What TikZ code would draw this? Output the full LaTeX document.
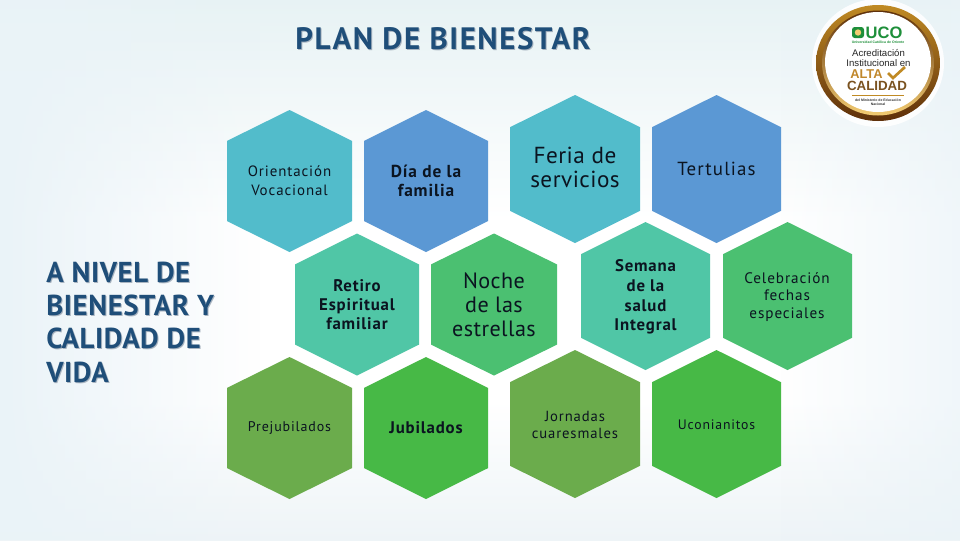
\documentclass[tikz,border=0pt]{standalone}
\usepackage{fontspec}
\setmainfont{PT Sans}
\newfontfamily\badgefont{Liberation Sans}
\usetikzlibrary{fadings}
\definecolor{tealhex}{HTML}{52BCCB}
\definecolor{bluehex}{HTML}{5B98D4}
\definecolor{minthex}{HTML}{50C6A6}
\definecolor{grnhex}{HTML}{4BC071}
\definecolor{olivehex}{HTML}{6BAC4C}
\definecolor{limehex}{HTML}{47B946}
\definecolor{navy}{HTML}{1F4E79}
\definecolor{goldl}{HTML}{F3CC72}
\definecolor{goldm}{HTML}{C08A24}
\definecolor{goldd}{HTML}{5E300A}
\definecolor{ucogreen}{HTML}{1E8F3A}
\definecolor{brownt}{HTML}{7A5220}
\definecolor{bgtop}{HTML}{E7F2F4}
\definecolor{bgside}{HTML}{EAF3F8}
\definecolor{bgbot}{HTML}{EEF4F7}
\definecolor{inkc}{HTML}{0B1420}
\definecolor{shadowc}{HTML}{A9B4C0}
\tikzset{
 txt/.style={align=center,text=inkc,inner sep=0pt},
 heading/.style={inner sep=0pt,align=left},
}
\newfontface\spacedr{PT Sans}[LetterSpace=6]
\newfontface\spacedb{PT Sans Bold}[LetterSpace=5]
\newfontface\spacedm{PT Sans}[LetterSpace=2]
\newfontface\headf{PT Sans Bold}[LetterSpace=5]
\newfontface\headg{PT Sans Bold}[LetterSpace=2]
\newcommand{\hexa}[5]{%
 \fill[#5] (#1,#2-#4) -- (#1+#3,#2-#4*0.565) -- (#1+#3,#2+#4*0.565) -- (#1,#2+#4) -- (#1-#3,#2+#4*0.565) -- (#1-#3,#2-#4*0.565) -- cycle;}
\begin{document}
\begin{tikzpicture}[x=0.75pt,y=-0.75pt]
\useasboundingbox (0,0) rectangle (960,540);
\fill[white] (0,0) rectangle (960,540);
\shade[top color=bgtop,bottom color=white] (0,0) rectangle (960,220);
\shade[top color=white,bottom color=bgbot] (0,400) rectangle (960,540);
\fill[bgside,path fading=east] (0,0) rectangle (260,540);
\fill[bgside,path fading=west,opacity=.7] (780,0) rectangle (960,540);
% hexagons
\hexa{289.5}{181}{62.5}{71}{tealhex}
\hexa{426}{181}{62}{71}{bluehex}
\hexa{357}{304.5}{62}{71}{minthex}
\hexa{494}{304.5}{63}{71}{grnhex}
\hexa{289.5}{428}{62.5}{71}{olivehex}
\hexa{426}{428}{62}{71}{limehex}
\hexa{575}{169}{65}{74}{tealhex}
\hexa{716.5}{169}{64.5}{74}{bluehex}
\hexa{645.5}{296}{64.5}{74}{minthex}
\hexa{787.5}{296}{64.5}{74}{grnhex}
\hexa{575}{424}{65}{74}{olivehex}
\hexa{716.5}{424}{64.5}{74}{limehex}
% texts
\node[txt,font=\spacedr\fontsize{11.2}{14}\selectfont] (a) at (289.5,181) {Orientación\\Vocacional};
\node[txt,font=\spacedb\fontsize{13}{14}\selectfont] (b) at (426,181) {Día de la\\familia};
\node[txt,font=\spacedb\fontsize{12.6}{14.5}\selectfont] (c) at (357,304.5) {Retiro\\Espiritual\\familiar};
\node[txt,font=\spacedm\fontsize{16.6}{18}\selectfont] (d) at (494,304.5) {Noche\\de las\\estrellas};
\node[txt,font=\spacedr\fontsize{10.5}{14}\selectfont] (e) at (289.5,428.5) {Prejubilados};
\node[txt,font=\spacedb\fontsize{12.6}{14}\selectfont] (f) at (426,428) {Jubilados};
\node[txt,font=\spacedm\fontsize{17.4}{18}\selectfont] (g) at (575,167.5) {Feria de\\servicios};
\node[txt,font=\spacedr\fontsize{14.2}{16}\selectfont] (h) at (716.5,169) {Tertulias};
\node[txt,font=\spacedb\fontsize{12.6}{14.7}\selectfont] (i) at (645.5,297) {Semana\\de la\\salud\\Integral};
\node[txt,font=\spacedr\fontsize{11.4}{13}\selectfont] (j) at (787,297) {Celebración\\fechas\\especiales};
\node[txt,font=\spacedr\fontsize{11}{13.2}\selectfont] (k) at (575,425) {Jornadas\\cuaresmales};
\node[txt,font=\spacedr\fontsize{10.3}{14}\selectfont] (l) at (716.5,425) {Uconianitos};
% title
\node[heading,font=\headf\fontsize{23.2}{24}\selectfont,text=shadowc] (ts) at (444,39.6) {PLAN DE BIENESTAR};
\node[heading,font=\headf\fontsize{23.2}{24}\selectfont,text=navy] (t) at (443,38.4) {PLAN DE BIENESTAR};
% left
\node[heading,anchor=north west,font=\headg\fontsize{21.6}{25}\selectfont,text=shadowc] (ss) at (47,262.5) {A NIVEL DE\\BIENESTAR Y\\CALIDAD DE\\VIDA};
\node[heading,anchor=north west,font=\headg\fontsize{21.6}{25}\selectfont,text=navy] (s) at (46,261.5) {A NIVEL DE\\BIENESTAR Y\\CALIDAD DE\\VIDA};
% badge
\fill[white,opacity=.9] (878,63) ellipse (66 and 64);
\shade[top color=goldm,middle color=goldl,bottom color=goldd] (878,63) ellipse (62 and 58);
\shade[top color=goldd,middle color=goldm,bottom color=goldl] (878,63) ellipse (56 and 52.5);
\fill[white] (878,62) ellipse (53 and 50);
\fill[ucogreen,rounded corners=2pt] (852,27) rectangle (864,38);
\fill[goldl] (858,32.5) circle (3.2);
\node[font=\badgefont\bfseries\fontsize{12.4}{14}\selectfont,text=ucogreen,inner sep=0pt] (u) at (884,33) {UCO};
\node[font=\badgefont\bfseries\fontsize{2.6}{3}\selectfont,text=ucogreen,inner sep=0pt] (u2) at (878,42.5) {Universidad Católica de Oriente};
\node[font=\badgefont\fontsize{7.2}{7.6}\selectfont,align=center,inner sep=0pt,text=black!85] (v) at (878.5,58) {Acreditación\\Institucional en};
\node[font=\badgefont\bfseries\fontsize{9.6}{10}\selectfont,inner sep=0pt,text=goldm!75!brown,anchor=west] (w) at (850,74.2) {ALTA};
\draw[line width=2pt,goldm] (888,73) -- (893,78) -- (905,67);
\node[font=\badgefont\bfseries\fontsize{10}{10}\selectfont,inner sep=0pt,text=brownt] (x) at (877,85.5) {CALIDAD};
\draw[goldm,line width=.4pt] (852,95.5) -- (904,95.5);
\node[font=\badgefont\bfseries\fontsize{2.6}{3.2}\selectfont,align=center,inner sep=0pt,text=black!80] (y) at (878,102.5) {del Ministerio de Educación\\Nacional};
\end{tikzpicture}
\end{document}
